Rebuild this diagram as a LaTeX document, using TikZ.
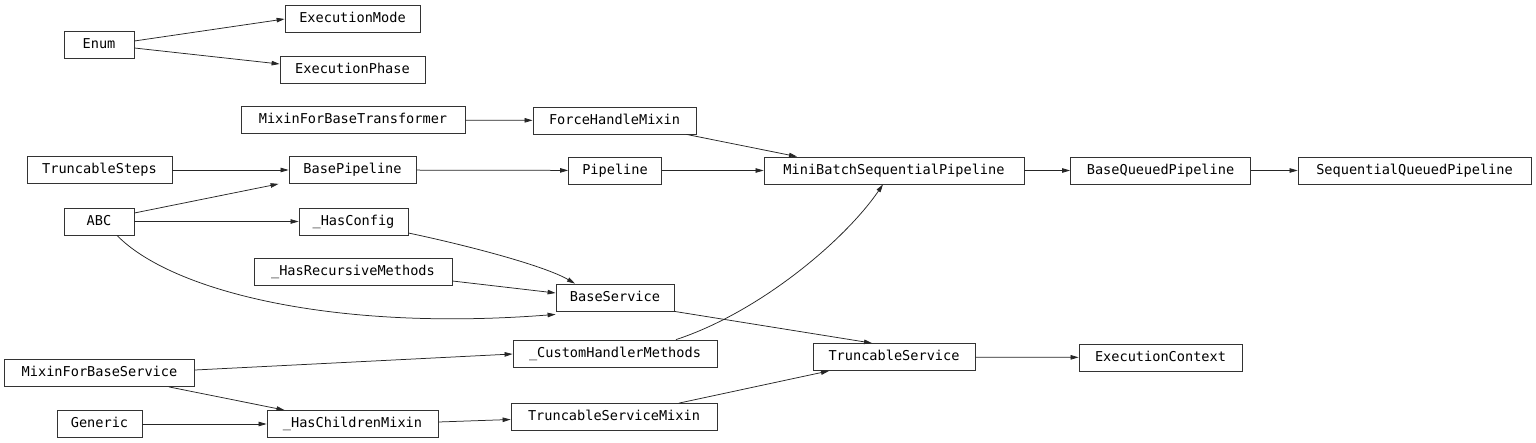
\documentclass[tikz,border=0pt]{standalone}
\usepackage{fontspec}
\setmonofont{DejaVu Sans Mono}
\usetikzlibrary{arrows.meta}
\tikzset{
  cls/.style={draw=black!80, line width=0.8pt, minimum height=27pt, inner sep=0pt,
    font=\ttfamily\fontsize{13.6}{15}\selectfont, text height=10pt, text depth=2.5pt},
  inh/.style={draw=black!85, line width=0.75pt, -{Triangle[length=8pt,width=4.5pt]}}
}
\begin{document}
\begin{tikzpicture}[x=1pt,y=-1pt]
\useasboundingbox[fill=white] (0,0) rectangle (1536,443);
% nodes
\node[cls, minimum width=70pt]  (enum)    at (99,45)      {Enum};
\node[cls, minimum width=135pt] (emode)   at (352.5,18.5) {ExecutionMode};
\node[cls, minimum width=145pt] (ephase)  at (352.5,69.5) {ExecutionPhase};
\node[cls, minimum width=224pt] (mfbt)    at (353,120)    {MixinForBaseTransformer};
\node[cls, minimum width=163pt] (fhm)     at (614.5,120.5){ForceHandleMixin};
\node[cls, minimum width=145pt] (tsteps)  at (99.5,170)   {TruncableSteps};
\node[cls, minimum width=127pt] (bpipe)   at (352.5,170)  {BasePipeline};
\node[cls, minimum width=93pt]  (pipe)    at (615,170.5)  {Pipeline};
\node[cls, minimum width=260pt] (mbsp)    at (894,170.5)  {MiniBatchSequentialPipeline};
\node[cls, minimum width=180pt] (bqp)     at (1160.5,170.5){BaseQueuedPipeline};
\node[cls, minimum width=233pt] (sqp)     at (1414.5,170.5){SequentialQueuedPipeline};
\node[cls, minimum width=70pt]  (abc)     at (99,221.5)   {ABC};
\node[cls, minimum width=109pt] (hconf)   at (353.5,221.5){\_HasConfig};
\node[cls, minimum width=198pt] (hrec)    at (353,272)    {\_HasRecursiveMethods};
\node[cls, minimum width=118pt] (bserv)   at (615,297.5)  {BaseService};
\node[cls, minimum width=190pt] (mfbs)    at (99.5,373)   {MixinForBaseService};
\node[cls, minimum width=204pt] (chm)     at (615,353.5)  {\_CustomHandlerMethods};
\node[cls, minimum width=162pt] (tserv)   at (894,357)    {TruncableService};
\node[cls, minimum width=163pt] (ectx)    at (1160.5,357.5){ExecutionContext};
\node[cls, minimum width=85pt]  (generic) at (99.5,424)   {Generic};
\node[cls, minimum width=171pt] (hcm)     at (352.5,424)  {\_HasChildrenMixin};
\node[cls, minimum width=206pt] (tsm)     at (614,417)    {TruncableServiceMixin};
% edges
\draw[inh] (enum.east |- 0,41) -- (emode.west |- 0,19);
\draw[inh] (enum.east |- 0,48) -- (ephase.west |- 0,64);
\draw[inh] (mfbt) -- (fhm);
\draw[inh] (fhm.south east) ++(-10,0) -- ([xshift=-97pt]mbsp.north);
\draw[inh] (tsteps) -- (bpipe);
\draw[inh] (abc.east |- 0,213) -- ([xshift=-10pt]bpipe.south west);
\draw[inh] (abc) -- (hconf);
\draw[inh] ([xshift=18pt]abc.south) .. controls (170,290) and (330,332) .. ([yshift=-3pt]bserv.south west);
\draw[inh] (hconf.east |- 0,233) .. controls (470,246) and (545,266) .. ([xshift=-40pt]bserv.north);
\draw[inh] (hrec.east |- 0,281) -- (bserv.west |- 0,293);
\draw[inh] (pipe) -- (mbsp);
\draw[inh] (bpipe) -- (pipe);
\draw[inh] (mbsp) -- (bqp);
\draw[inh] (bqp) -- (sqp);
\draw[inh] (bserv.south east) -- ([xshift=-22pt]tserv.north);
\draw[inh] ([xshift=61pt]chm.north) .. controls (760,312) and (845,240) .. ([xshift=-11pt]mbsp.south);
\draw[inh] (mfbs.east |- 0,370) -- (chm.west |- 0,354);
\draw[inh] ([xshift=-26pt]mfbs.south east) -- ([xshift=-68pt]hcm.north);
\draw[inh] (generic) -- (hcm);
\draw[inh] (hcm.east |- 0,422) -- (tsm.west |- 0,419.5);
\draw[inh] ([xshift=65pt]tsm.north) -- ([xshift=-65pt]tserv.south);
\draw[inh] (tserv) -- (ectx);
\end{tikzpicture}
\end{document}
